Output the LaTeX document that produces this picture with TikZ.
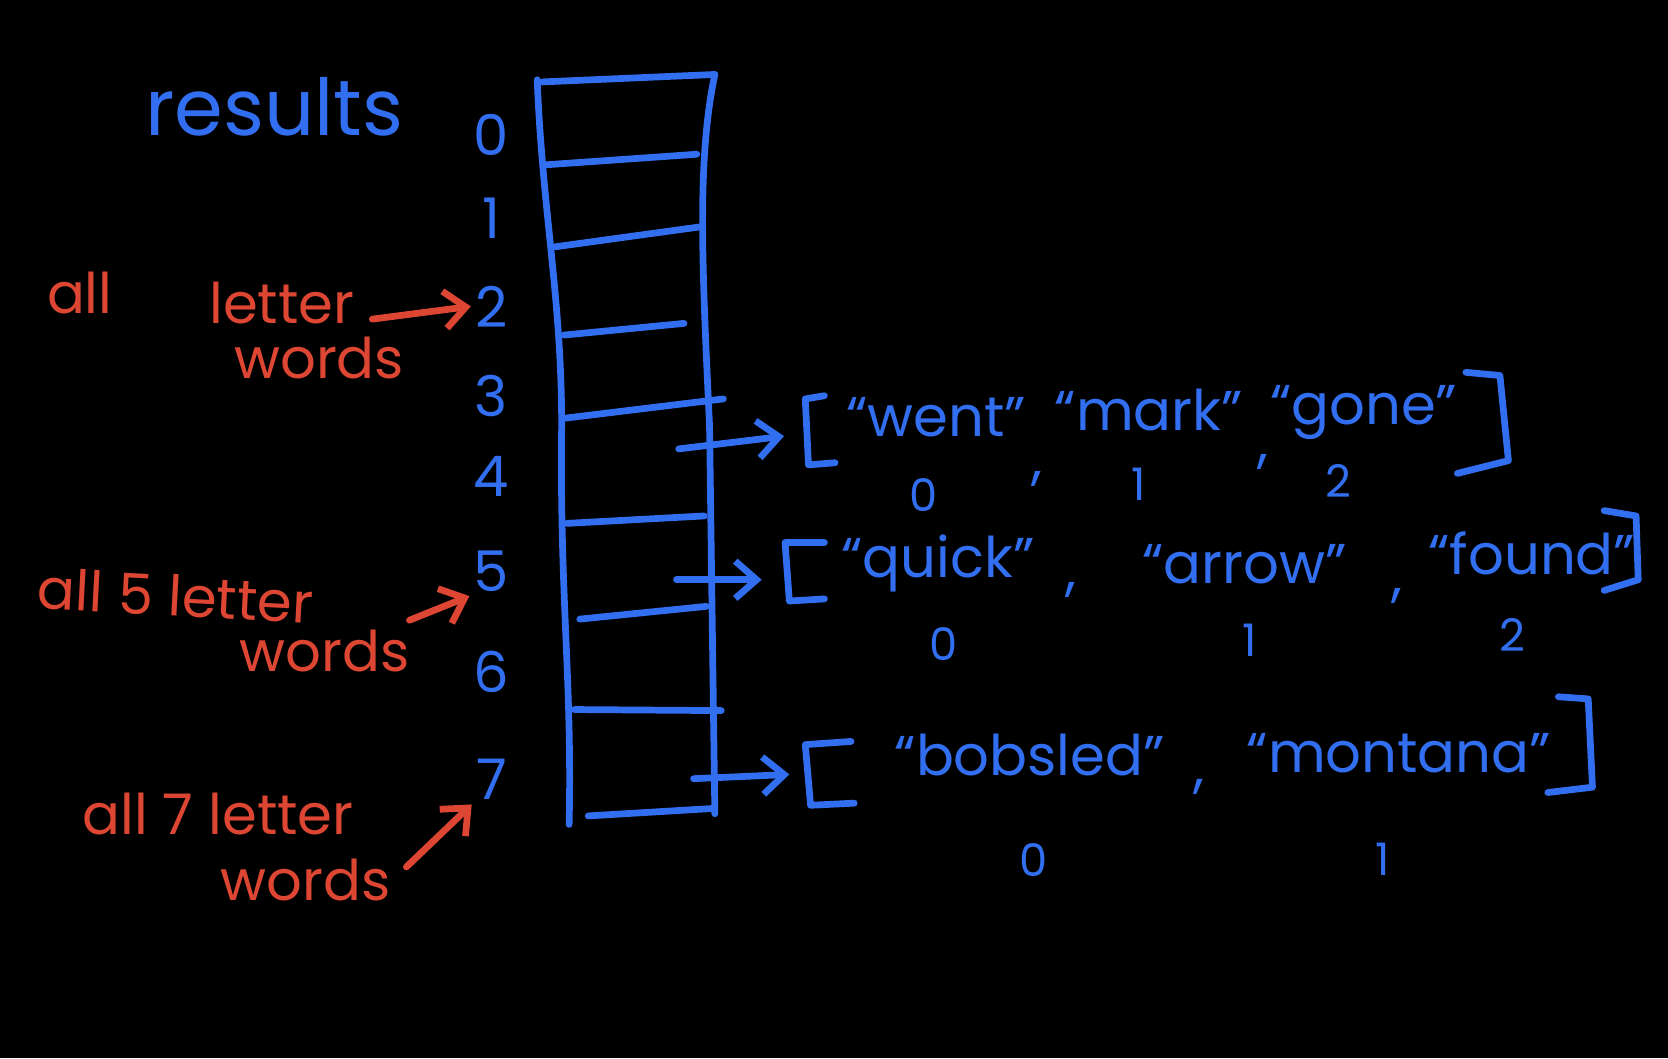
\documentclass[tikz,border=0pt]{standalone}
\usepackage{fontspec}
\setmainfont{Poppins}
\usetikzlibrary{arrows.meta}
\definecolor{penblue}{RGB}{50,110,240}
\definecolor{penred}{RGB}{220,70,50}
\tikzset{
  pen/.style={line width=1.8pt, line cap=round, line join=round},
  bluepen/.style={pen, draw=penblue},
  redpen/.style={pen, draw=penred},
  word/.style={text=penblue, font=\fontsize{15}{18}\selectfont, inner sep=0pt},
  idx/.style={text=penblue, font=\fontsize{15}{18}\selectfont, inner sep=1pt},
  subidx/.style={text=penblue, font=\fontsize{12}{14}\selectfont, inner sep=0pt},
  note/.style={text=penred, font=\fontsize{15}{18}\selectfont, inner sep=0pt},
}
\begin{document}
\begin{tikzpicture}[x=0.1mm, y=-0.1mm, >={Straight Barb[length=2mm,width=3.5mm]}]
    \fill[black] (0,0) rectangle (1568,995);
    \useasboundingbox (0,0) rectangle (1568,995);

    \node[word, font=\fontsize{21}{25}\selectfont] (title) at (258,100) {results};

    % the array and its indices
    \foreach \i/\y in {0/127,1/205,2/288,3/372,4/448,5/537,6/632,7/733}
    {
       \node[idx] (i\i) at (462,\y) {\i};
    }
    \draw[bluepen] (510,77) -- (672,70);
    \draw[bluepen] (505,75) .. controls (510,200) and (528,280) .. (528,400)
        .. controls (526,560) and (538,640) .. (535,775);
    \draw[bluepen] (672,70) .. controls (655,150) and (660,250) .. (667,400) -- (672,765);
    \foreach \a/\y/\b/\z in {512/155/655/145, 522/232/660/213, 530/315/643/304,
        532/393/680/375, 533/492/662/485, 545/582/664/570, 540/667/678/668, 553/767/670/760}
    {
       \draw[bluepen] (\a,\y) -- (\b,\z);
    }

    % row 4
    \coordinate (c4) at (638,422);
    \coordinate (lb4) at (737,410);
    \draw[bluepen, ->] (c4) -- (lb4);
    \draw[bluepen] (775,372) -- (757,375) -- (760,437) -- (785,435);
    \draw[bluepen] (1378,350) -- (1410,353) -- (1418,433) -- (1370,445);
    \node[word] (went) at (880,392) {“went”};
    \node[word] (k41) at (975,450) {,};
    \node[word] (mark) at (1080,385) {“mark”};
    \node[word] (k42) at (1187,434) {,};
    \node[word] (gone) at (1282,388) {“gone”};
    \node[subidx] (n40) at (868,465) {0};
    \node[subidx] (n41) at (1070,455) {1};
    \node[subidx] (n42) at (1258,452) {2};

    % row 5
    \coordinate (c5) at (636,545);
    \coordinate (lb5) at (716,545);
    \draw[bluepen, ->] (c5) -- (lb5);
    \draw[bluepen] (775,510) -- (738,510) -- (742,565) -- (775,563);
    \draw[bluepen] (1508,480) -- (1538,485) -- (1540,545) -- (1508,555);
    \node[word] (quick) at (882,530) {“quick”};
    \node[word] (k51) at (1007,555) {,};
    \node[word] (arrow) at (1170,530) {“arrow”};
    \node[word] (k52) at (1313,560) {,};
    \node[word] (found) at (1440,520) {“found”};
    \node[subidx] (n50) at (887,605) {0};
    \node[subidx] (n51) at (1175,602) {1};
    \node[subidx] (n52) at (1422,597) {2};

    % row 7
    \coordinate (c7) at (652,732);
    \coordinate (lb7) at (742,728);
    \draw[bluepen, ->] (c7) -- (lb7);
    \draw[bluepen] (800,697) -- (757,700) -- (762,757) -- (803,755);
    \draw[bluepen] (1465,655) -- (1493,657) -- (1497,740) -- (1455,745);
    \node[word] (bobsled) at (968,710) {“bobsled”};
    \node[word] (k71) at (1127,740) {,};
    \node[word] (montana) at (1315,708) {“montana”};
    \node[subidx] (n70) at (972,808) {0};
    \node[subidx] (n71) at (1300,808) {1};

    % notes
    \node[note] (all2) at (75,275) {all};
    \node[note] (ltr2) at (265,285) {letter};
    \node[note] (wd2) at (300,337) {words};
    \coordinate (a2) at (350,300);
    \draw[redpen, ->] (a2) -- (i2.west);

    \node[note, rotate=-3] (ltr5) at (165,560) {all 5 letter};
    \node[note] (wd5) at (305,612) {words};
    \coordinate (a5) at (385,583);
    \draw[redpen, ->] (a5) -- (i5.south west);

    \node[note] (ltr7) at (205,765) {all 7 letter};
    \node[note] (wd7) at (287,827) {words};
    \coordinate (a7) at (382,815);
    \draw[redpen, ->] (a7) -- (i7.south west);
\end{tikzpicture}
\end{document}
